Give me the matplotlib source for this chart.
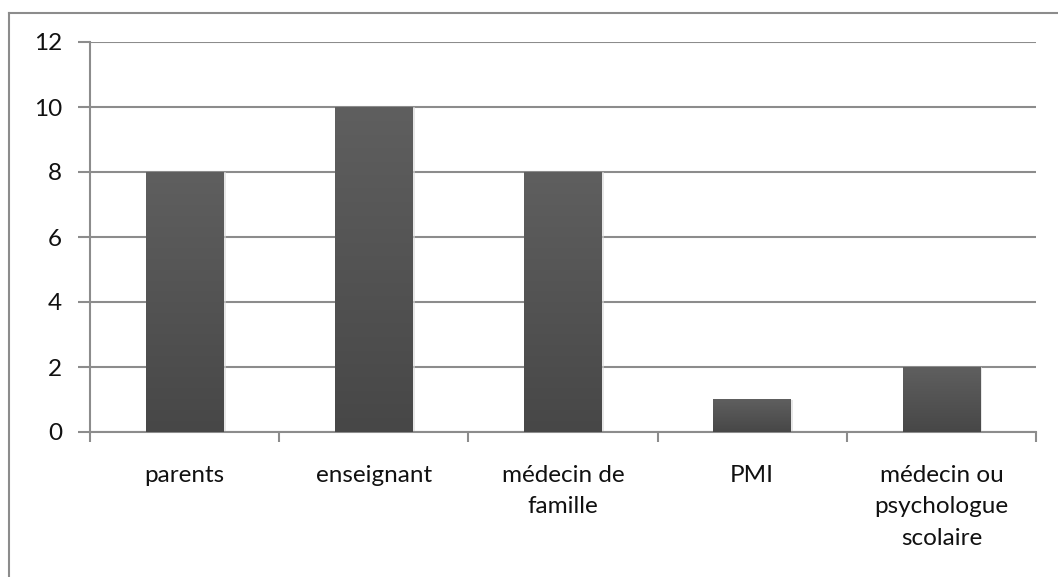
import numpy as np
import matplotlib
matplotlib.use('Agg')
from matplotlib import pyplot as plt
from matplotlib.lines import Line2D

# données
categories = ['parents', 'enseignant', 'médecin de\nfamille', 'PMI',
              'médecin ou\npsychologue\nscolaire']
values = [8, 10, 8, 1, 2]
yticks = [0, 2, 4, 6, 8, 10, 12]

plt.rcParams['font.family'] = ['Lato', 'DejaVu Sans']
grid_col = '#8c8c8c'

fig = plt.figure(figsize=(10.58, 5.77), dpi=100)
# cadre extérieur (bords droit et bas hors image)
bx, by = 8.5 / 1058, 1 - 12.5 / 577
fig.add_artist(Line2D([bx, bx], [0, by], transform=fig.transFigure,
                      color=grid_col, linewidth=1.5))
fig.add_artist(Line2D([bx, 1], [by, by], transform=fig.transFigure,
                      color=grid_col, linewidth=1.5))

ax = fig.add_axes([90 / 1058, 145 / 577, 946 / 1058, 390 / 577])
x = np.arange(len(categories))
width = 0.41

# dégradé vertical des barres
grad = np.linspace(0, 1, 256).reshape(-1, 1)
cmap = matplotlib.colors.LinearSegmentedColormap.from_list('g', ['#474747', '#5f5f5f'])
for xi, v in zip(x, values):
    # ombre légère
    ax.bar(xi + 0.012, v, width, color='#d8d8d8', zorder=2, alpha=0.6)
    ax.imshow(grad, extent=(xi - width / 2, xi + width / 2, 0, v), origin='lower',
              cmap=cmap, aspect='auto', zorder=3)

ax.set_xlim(-0.5, len(categories) - 0.5)
ax.set_ylim(0, 12)
ax.set_yticks(yticks)
ax.set_yticklabels([str(t) for t in yticks])
ax.yaxis.grid(True, color=grid_col, linewidth=1.5)
ax.set_axisbelow(True)

for s in ['top', 'right']:
    ax.spines[s].set_visible(False)
for s in ['left', 'bottom']:
    ax.spines[s].set_color(grid_col)
    ax.spines[s].set_linewidth(1.5)

ax.set_xticks(np.arange(len(categories) + 1) - 0.5, minor=False)
ax.set_xticklabels([])
ax.tick_params(axis='x', direction='out', length=7, width=1.5, color=grid_col)
ax.tick_params(axis='y', direction='out', length=9, width=1.5, color=grid_col,
               labelsize=17.5, pad=11, labelcolor='#111111')

for xi, c in zip(x, categories):
    ax.text(xi, -1.0, c, ha='center', va='top', fontsize=17.5, color='#111111',
            linespacing=1.62)

fig.savefig('out.png', dpi=100)
